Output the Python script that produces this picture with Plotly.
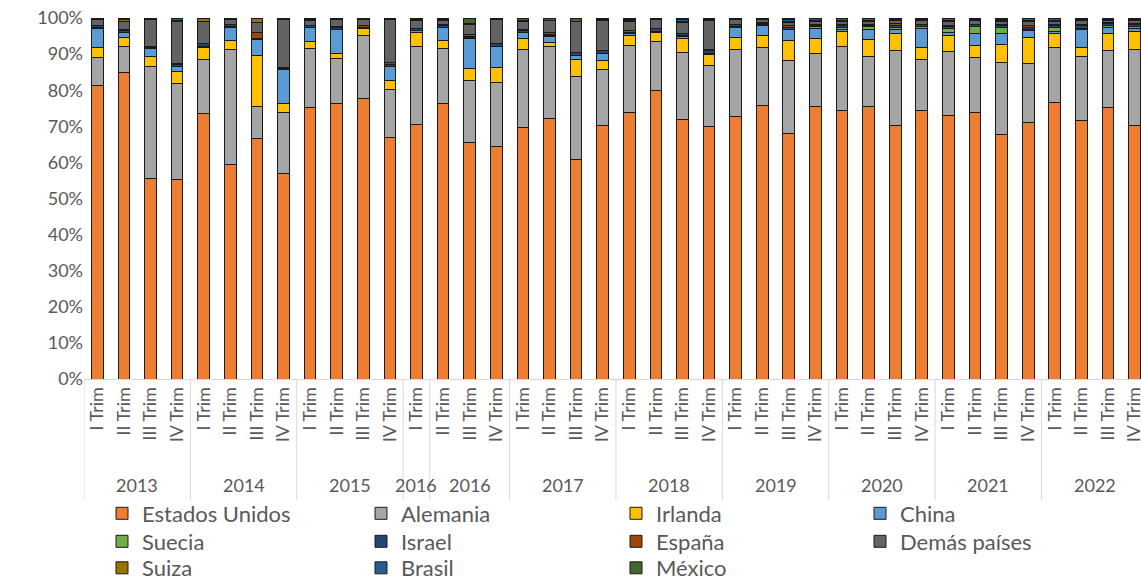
import plotly.graph_objects as go

# ---------------- data ----------------
year_groups = ["2013", "2014", "2015", "2016", "2016", "2017", "2018", "2019", "2020", "2021", "2022"]
group_sizes = [4, 4, 4, 1, 3, 4, 4, 4, 4, 4, 4]
quarters = (["I Trim", "II Trim", "III Trim", "IV Trim"] * 3 + ["I Trim"] + ["II Trim", "III Trim", "IV Trim"]
            + ["I Trim", "II Trim", "III Trim", "IV Trim"] * 6)

estados_unidos = [81.2, 84.8, 55.6, 55.4, 73.6, 59.3, 66.7, 57.0, 75.3, 76.2, 77.6, 67.0, 70.4,
                  76.2, 65.6, 64.3, 69.6, 72.2, 60.7, 70.1, 73.9, 79.8, 71.9, 69.9, 72.7, 75.9, 68.1, 75.6,
                  74.5, 75.6, 70.2, 74.3, 73.1, 73.9, 67.8, 71.0, 76.6, 71.6, 75.3, 70.1]
alemania = [7.8, 7.2, 31.1, 26.5, 14.8, 31.9, 8.9, 16.8, 16.3, 12.7, 17.5, 13.1, 21.7,
            15.4, 17.1, 17.8, 21.8, 20.0, 23.1, 15.5, 18.4, 13.7, 18.6, 16.9, 18.7, 16.0, 20.1, 14.6,
            17.5, 13.8, 20.8, 14.3, 17.5, 15.2, 19.9, 16.3, 15.2, 17.6, 15.7, 21.3]
irlanda = [2.8, 2.6, 2.6, 3.2, 3.4, 2.6, 14.1, 2.6, 1.8, 1.4, 1.9, 2.5, 3.8,
           2.1, 3.2, 4.3, 2.8, 0.9, 4.6, 2.6, 2.8, 2.6, 3.9, 3.2, 3.2, 3.2, 5.5, 4.0,
           4.4, 4.6, 4.6, 3.3, 4.6, 3.2, 4.9, 7.2, 4.0, 2.5, 4.8, 4.9]
china = [5.4, 1.3, 2.3, 1.5, 0.2, 3.7, 4.3, 9.4, 4.0, 6.5, 0.1, 4.0, 0.6,
         3.7, 8.5, 5.6, 1.7, 1.9, 1.2, 2.0, 0.5, 0.2, 0.6, 0.1, 2.8, 2.8, 3.0, 2.9,
         0.3, 2.7, 1.1, 5.3, 0.9, 3.5, 3.0, 2.1, 0.6, 5.1, 1.7, 0.9]
suecia = [0.1, 0.1, 0.1, 0.1, 0.1, 0.1, 0.1, 0.1, 0.1, 0.1, 0.1, 0.1, 0.1,
          0.1, 0.1, 0.1, 0.1, 0.1, 0.1, 0.1, 0.1, 0.1, 0.1, 0.1, 0.2, 0.2, 0.1, 0.5,
          0.6, 0.9, 0.8, 0.4, 1.1, 1.8, 1.7, 0.2, 1.1, 0.3, 0.5, 0.4]
israel = [0.5, 0.6, 0.3, 0.5, 0.7, 0.6, 0.1, 0.3, 0.3, 0.6, 0.3, 0.4, 0.5,
          0.3, 0.4, 0.8, 0.6, 0.4, 0.7, 0.7, 0.3, 0.7, 0.5, 0.9, 0.5, 0.4, 0.6, 0.4,
          0.6, 0.4, 0.3, 0.5, 0.5, 0.5, 0.5, 0.5, 0.4, 0.8, 0.5, 0.5]
espana = [0.1, 0.1, 0.1, 0.1, 0.1, 0.1, 1.9, 0.1, 0.1, 0.1, 0.5, 0.5, 0.1,
          0.5, 0.4, 0.1, 0.1, 0.6, 0.1, 0.1, 0.5, 0.1, 0.1, 0.1, 0.2, 0.2, 0.5, 0.2,
          0.2, 0.2, 0.6, 0.1, 0.2, 0.2, 0.3, 0.7, 0.2, 0.2, 0.2, 0.5]
demas_paises = [1.6, 2.4, 7.4, 11.8, 6.1, 1.4, 2.7, 13.3, 1.5, 2.1, 1.7, 12.0, 2.2,
                1.1, 2.8, 6.5, 2.2, 3.1, 8.4, 8.3, 2.5, 2.5, 3.1, 8.0, 1.3, 0.8, 0.9, 0.8,
                0.9, 0.8, 0.8, 1.0, 1.2, 0.9, 0.8, 1.0, 1.0, 1.2, 0.7, 0.8]
suiza = [0.1, 0.6, 0.1, 0.2, 0.8, 0.1, 1.2, 0.1, 0.3, 0.1, 0.1, 0.1, 0.2,
         0.1, 0.1, 0.1, 0.1, 0.1, 0.1, 0.1, 0.2, 0.1, 0.3, 0.1, 0.1, 0.2, 0.3, 0.4,
         0.3, 0.4, 0.3, 0.3, 0.3, 0.3, 0.4, 0.4, 0.3, 0.3, 0.3, 0.3]
brasil = [0.3, 0.2, 0.3, 0.6, 0.1, 0.1, 0.0, 0.2, 0.2, 0.1, 0.1, 0.2, 0.3,
          0.4, 0.2, 0.3, 0.4, 0.6, 0.1, 0.4, 0.3, 0.1, 0.4, 0.2, 0.2, 0.2, 0.5, 0.4,
          0.5, 0.4, 0.3, 0.3, 0.4, 0.3, 0.4, 0.4, 0.4, 0.3, 0.2, 0.2]
mexico = [0.1, 0.1, 0.1, 0.1, 0.1, 0.1, 0.0, 0.1, 0.1, 0.1, 0.1, 0.1, 0.1,
          0.1, 1.6, 0.1, 0.6, 0.1, 0.9, 0.1, 0.5, 0.1, 0.5, 0.5, 0.1, 0.1, 0.4, 0.2,
          0.2, 0.2, 0.2, 0.2, 0.2, 0.2, 0.3, 0.2, 0.2, 0.1, 0.1, 0.1]

series_names = ["Estados Unidos", "Alemania", "Irlanda", "China", "Suecia", "Israel",
                "España", "Demás países", "Suiza", "Brasil", "México"]
series_values = [estados_unidos, alemania, irlanda, china, suecia, israel,
                 espana, demas_paises, suiza, brasil, mexico]
series_colors = ["#ED7D31", "#A5A5A5", "#FFC000", "#5B9BD5", "#70AD47", "#264478",
                 "#9E480E", "#636363", "#997300", "#255E91", "#43682B"]

FONT = "Lato"
TXT = "#595959"
FS = 18
LEG_FS = 22

W, H = 1141, 579
x_idx = list(range(len(quarters)))

# legend grid (4 columns x 3 rows, row-major like the original)
col_left = [102, 361, 616, 860]
row_top = [492.5, 520.5, 547.0]

fig = go.Figure()
layout_legends = {}
for i, (name, vals, color) in enumerate(zip(series_names, series_values, series_colors)):
    leg_key = "legend" if i == 0 else f"legend{i + 1}"
    fig.add_trace(go.Bar(
        x=x_idx, y=vals, name=name, legend=leg_key,
        marker=dict(color=color, line=dict(color="#1a1a1a", width=1)),
    ))
    r, c = divmod(i, 4)
    layout_legends[leg_key] = dict(
        x=col_left[c] / W, y=1 - row_top[r] / H, xref="container", yref="container",
        xanchor="left", yanchor="top", orientation="v", bgcolor="rgba(0,0,0,0)",
        font=dict(family=FONT, size=LEG_FS, color=TXT))

# year group labels and separators
shapes = []
annotations = []
start = 0
bounds = [-0.5]
for label, size in zip(year_groups, group_sizes):
    center = start + (size - 1) / 2
    annotations.append(dict(x=center, y=-0.294, xref="x", yref="paper", text=label,
                            showarrow=False, font=dict(family=FONT, size=FS, color=TXT),
                            xanchor="center", yanchor="middle"))
    start += size
    bounds.append(start - 0.5)
for b in bounds:
    shapes.append(dict(type="line", xref="x", yref="paper", x0=b, x1=b, y0=0, y1=-0.335,
                       line=dict(color="#D9D9D9", width=1)))

fig.update_layout(
    width=W, height=H,
    margin=dict(l=84, r=0, t=18, b=200, autoexpand=False),
    paper_bgcolor="white", plot_bgcolor="white",
    barmode="stack", barnorm="percent", bargap=0.56,
    font=dict(family=FONT, size=FS, color=TXT),
    showlegend=True,
    xaxis=dict(range=[-0.5, 39.24], tickmode="array", tickvals=x_idx, ticktext=quarters,
               tickangle=-90, showline=True, linecolor="#D9D9D9", linewidth=1,
               showgrid=False, zeroline=False, ticks="", fixedrange=True, automargin=False,
               ticklabeloverflow="allow",
               tickfont=dict(family=FONT, size=FS, color=TXT)),
    yaxis=dict(range=[0, 100], tickmode="array", tickvals=list(range(0, 101, 10)),
               ticktext=[f"{v}%" for v in range(0, 101, 10)], showgrid=False,
               zeroline=False, showline=False, ticks="", automargin=False,
               ticklabeloverflow="allow", fixedrange=True,
               tickfont=dict(family=FONT, size=FS, color=TXT)),
    shapes=shapes,
    annotations=annotations,
    **layout_legends,
)

fig.write_html(
    "out.html",
    config={"displayModeBar": False},
    post_script="document.body.style.margin='0';document.body.style.overflow='hidden';",
)
